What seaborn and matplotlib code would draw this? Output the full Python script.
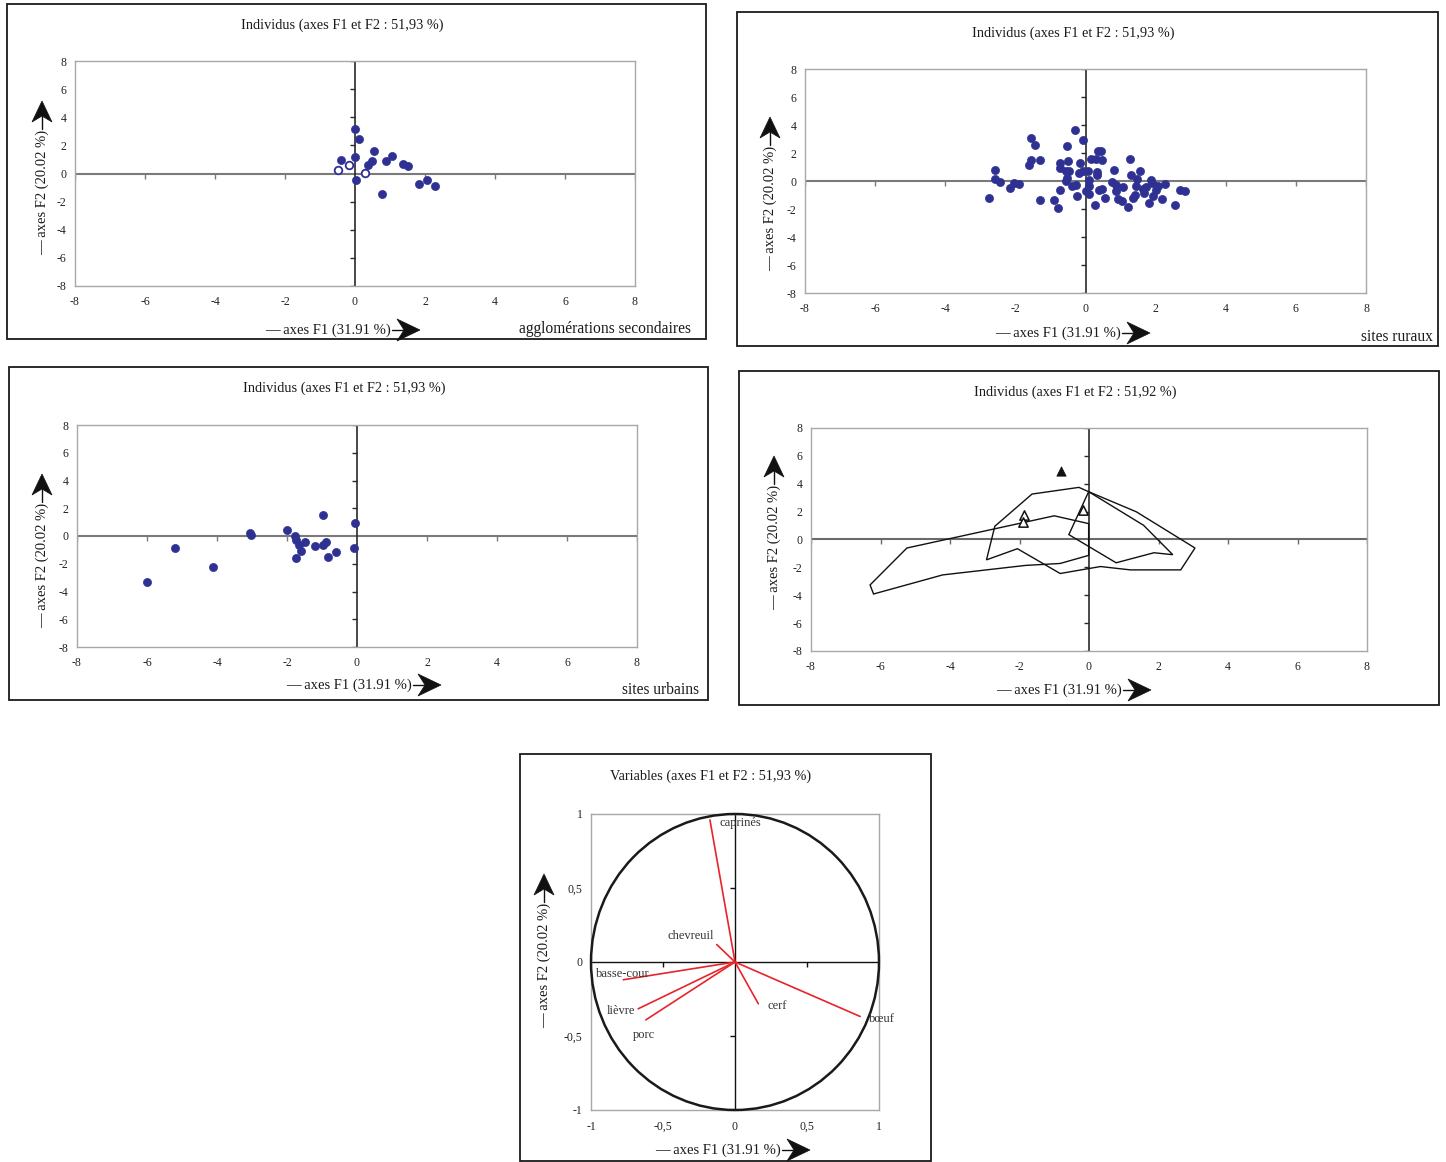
import numpy as np
import pandas as pd
import matplotlib
matplotlib.use("Agg")
import matplotlib.pyplot as plt
from matplotlib.patches import Rectangle, Polygon, Circle
import seaborn as sns

# ---------------- DATA ----------------
# Panel 1 : agglomérations secondaires
agglo_f1 = [0.00, 0.12, -0.40, 0.00, 0.55, 0.48, 0.36, 0.88, 1.06, 1.38, 1.51, 0.03, 0.78, 1.84, 2.06, 2.28]
agglo_f2 = [3.14, 2.43, 0.97, 1.19, 1.59, 0.88, 0.57, 0.90, 1.28, 0.66, 0.50, -0.43, -1.48, -0.77, -0.48, -0.90]
agglo_open_f1 = [-0.50, -0.18, 0.28]
agglo_open_f2 = [0.26, 0.64, 0.07]

# Panel 2 : sites ruraux
rural_f1 = [-2.74, -2.57, -2.58, -2.44, -2.15, -2.03, -1.90, -1.55, -1.43, -1.29, -1.55, -1.60,
            -1.29, -0.89, -0.79, -0.73, -0.53, -0.29, -0.07, -0.49, -0.73, -0.72, -0.57, -0.46,
            -0.53, -0.55, -0.39, -0.27, -0.24, -0.19, -0.15, -0.08, 0.07, 0.09, 0.09, 0.02,
            0.11, 0.17, 0.29, 0.35, 0.45, 0.48, 0.32, 0.32, 0.27, 0.38, 0.48, 0.57, 0.80,
            0.76, 0.86, 0.88, 0.92, 1.04, 1.07, 1.21, 1.28, 1.31, 1.35, 1.40, 1.43, 1.48,
            1.56, 1.64, 1.67, 1.73, 1.81, 1.88, 1.90, 1.92, 2.02, 2.08, 2.17, 2.26, 2.54,
            2.69, 2.85]
rural_f2 = [-1.24, 0.79, 0.17, -0.05, -0.48, -0.12, -0.24, 3.07, 2.54, 1.51, 1.51, 1.15,
            -1.37, -1.37, -1.94, -0.67, 2.52, 3.63, 2.91, 1.44, 1.29, 0.94, 0.75, 0.68,
            0.22, 0.03, -0.38, -0.26, -1.10, 0.58, 1.29, 0.70, 0.75, 0.10, -0.38, -0.74,
            -0.93, 1.54, 1.54, 2.14, 2.14, 1.49, 0.63, 0.41, -1.68, -0.67, -0.55, -1.22, 0.82,
            -0.07, -0.26, -0.74, -1.32, -1.46, -0.40, -1.87, 1.58, 0.41, -1.22, -1.03, -0.38, 0.14,
            0.75, -0.55, -0.86, -0.45, -1.58, 0.10, -0.14, -1.10, -0.62, -0.38, -1.29, -0.19, -1.73,
            -0.62, -0.74]

# Panel 3 : sites urbains
urban_f1 = [-6.00, -5.19, -4.12, -3.06, -3.03, -2.00, -1.78, -1.73, -1.65, -1.60, -1.74, -1.49,
            -1.20, -0.98, -0.90, -0.97, -0.84, -0.60, -0.06, -0.09]
urban_f2 = [-3.33, -0.85, -2.27, 0.22, 0.05, 0.41, 0.00, -0.29, -0.65, -1.06, -1.55, -0.46,
            -0.70, -0.65, -0.41, 1.49, -1.50, -1.14, 0.91, -0.85]

# Panel 4 : enveloppes (polygones) + triangles
hull_urban_f1 = [-6.30, -5.24, -1.00, -0.01, -0.01, -0.83, -1.83, -4.21, -6.20]
hull_urban_f2 = [-3.26, -0.61, 1.70, 1.14, -1.14, -1.72, -1.86, -2.54, -3.91]
hull_rural_f1 = [-2.95, -2.71, -1.64, -0.29, -0.01, 1.36, 3.05, 2.64, 1.19, 0.33, -0.83, -2.06]
hull_rural_f2 = [-1.46, 0.95, 3.26, 3.74, 3.43, 1.99, -0.61, -2.18, -2.18, -1.94, -2.44, -0.66]
hull_agglo_f1 = [-0.01, 1.57, 2.41, 1.87, 0.78, -0.58]
hull_agglo_f2 = [3.43, 1.02, -1.09, -0.95, -1.67, 0.35]
tri_filled_f1 = [-0.80]
tri_filled_f2 = [4.91]
tri_open_f1 = [-1.86, -1.90, -0.16]
tri_open_f2 = [1.79, 1.22, 2.15]

# Panel 5 : cercle des corrélations
var_names = ["caprinés", "chevreuil", "basse-cour", "lièvre", "porc", "cerf", "bœuf"]
var_f1 = [-0.174, -0.127, -0.776, -0.672, -0.619, 0.162, 0.869]
var_f2 = [0.960, 0.118, -0.120, -0.316, -0.391, -0.282, -0.368]
lab_f1 = [-0.109, -0.470, -0.966, -0.892, -0.711, 0.225, 0.927]
lab_f2 = [0.938, 0.176, -0.079, -0.328, -0.493, -0.294, -0.384]

ind_ticks = [-8, -6, -4, -2, 0, 2, 4, 6, 8]
var_ticks = [-1, -0.5, 0, 0.5, 1]
var_tick_labels = ["-1", "-0,5", "0", "0,5", "1"]

titles = ["Individus (axes F1 et F2 : 51,93 %)", "Individus (axes F1 et F2 : 51,93 %)",
          "Individus (axes F1 et F2 : 51,93 %)", "Individus (axes F1 et F2 : 51,92 %)",
          "Variables (axes F1 et F2 : 51,93 %)"]
subtitles = ["agglomérations secondaires", "sites ruraux", "sites urbains", "", ""]
xlab = "— axes F1 (31.91 %)"
ylab = "— axes F2 (20.02 %)"

# ---------------- STYLE ----------------
sns.set_theme(style="white")
plt.rcParams['font.family'] = ['Liberation Serif', 'DejaVu Serif']
plt.rcParams['axes.unicode_minus'] = False

W, H = 1446, 1162
fig = plt.figure(figsize=(W / 100, H / 100), dpi=100)
fig.patch.set_facecolor("white")

def fx(x):
    return x / W

def fy(y):
    return 1 - y / H

BLUE = "#2E3192"
RED = "#E8232A"

def frame(l, t, r, b):
    fig.add_artist(Rectangle((fx(l), fy(b)), (r - l) / W, (b - t) / H, transform=fig.transFigure,
                             fill=False, ec="#1a1a1a", lw=1.3))

def arrow_right(tx, ty, start):
    pts = [(tx, ty), (tx - 23, ty - 11), (tx - 16, ty), (tx - 23, ty + 11)]
    fig.add_artist(Polygon([(fx(a), fy(b)) for a, b in pts], closed=True, transform=fig.transFigure,
                           fc="#111111", ec="#111111", lw=0.5))
    fig.add_artist(plt.Line2D([fx(start), fx(tx - 16)], [fy(ty), fy(ty)], transform=fig.transFigure,
                              color="#111111", lw=1.0))

def arrow_up(tx, ty, start):
    pts = [(tx, ty), (tx - 10, ty + 21), (tx, ty + 15), (tx + 10, ty + 21)]
    fig.add_artist(Polygon([(fx(a), fy(b)) for a, b in pts], closed=True, transform=fig.transFigure,
                           fc="#111111", ec="#111111", lw=0.5))
    fig.add_artist(plt.Line2D([fx(tx), fx(tx)], [fy(start), fy(ty + 15)], transform=fig.transFigure,
                              color="#111111", lw=1.0))

def make_axes(l, t, r, b):
    ax = fig.add_axes([fx(l), fy(b), (r - l) / W, (b - t) / H])
    ax.set_facecolor("white")
    for s in ax.spines.values():
        s.set_color("#a8a8a8")
        s.set_linewidth(1.0)
    return ax

def individus_axes(ax, hcol="#7a7a7a", vcol="#2a2a2a"):
    ax.set_xlim(-8, 8)
    ax.set_ylim(-8, 8)
    ax.set_xticks(ind_ticks)
    ax.set_yticks(ind_ticks)
    ax.set_xticklabels([str(t) for t in ind_ticks])
    ax.set_yticklabels([str(t) for t in ind_ticks])
    ax.tick_params(axis="both", length=0, labelsize=8.5, colors="#222222")
    ax.tick_params(axis="x", pad=7)
    ax.tick_params(axis="y", pad=6)
    ax.axhline(0, color=hcol, lw=1.5, zorder=1)
    ax.axvline(0, color=vcol, lw=1.2, zorder=1)
    tk = [t for t in ind_ticks if t != 0]
    ax.plot(tk, [0] * len(tk), ls="none", marker=3, ms=3.5, mew=1.0, color=hcol, zorder=1)
    ax.plot([0] * len(tk), tk, ls="none", marker=0, ms=3.5, mew=1.0, color=vcol, zorder=1)
    ax.set_xlabel("")
    ax.set_ylabel("")

# panel geometry (pixels): axes box, frame, title, labels
panels = [
    dict(ax=(75, 61, 635, 286), fr=(7, 4, 706, 339), title=(342, 25), xl=(420, 330), yl=(42, 101), sub=(691, 329)),
    dict(ax=(805, 69, 1366, 293), fr=(737, 12, 1438, 346), title=(1073, 33), xl=(1150, 333), yl=(770, 117), sub=(1433, 337)),
    dict(ax=(77, 425, 637, 647), fr=(9, 367, 708, 700), title=(344, 388), xl=(441, 685), yl=(42, 474), sub=(699, 690)),
    dict(ax=(811, 428, 1367, 651), fr=(739, 371, 1439, 705), title=(1075, 392), xl=(1151, 690), yl=(774, 456), sub=None),
    dict(ax=(591, 814, 879, 1110), fr=(520, 754, 931, 1161), title=(711, 776), xl=(810, 1150), yl=(544, 874), sub=None),
]

axes = []
for i, p in enumerate(panels):
    frame(*p["fr"])
    ax = make_axes(*p["ax"])
    axes.append(ax)
    tx, ty = p["title"]
    fig.text(fx(tx), fy(ty), titles[i], ha="center", va="center", fontsize=10.3, color="#1a1a1a")
    # x label + arrow
    ax_x, ax_y = p["xl"]
    fig.text(fx(ax_x - 29), fy(ax_y), xlab, ha="right", va="center", fontsize=10.5, color="#1a1a1a")
    arrow_right(ax_x, ax_y, ax_x - 28)
    # y label + arrow
    ay_x, ay_y = p["yl"]
    fig.text(fx(ay_x), fy(ay_y + 29), ylab, ha="center", va="top", rotation=90, fontsize=10.5, color="#1a1a1a")
    arrow_up(ay_x, ay_y, ay_y + 28)
    if p["sub"] is not None:
        sx, sy = p["sub"]
        fig.text(fx(sx), fy(sy), subtitles[i], ha="right", va="center", fontsize=11.2, color="#1a1a1a")

# Panel 1
ax = axes[0]
individus_axes(ax)
sns.scatterplot(x=agglo_f1, y=agglo_f2, ax=ax, color=BLUE, s=34, edgecolor=BLUE, linewidth=0.5, zorder=3, legend=False)
sns.scatterplot(x=agglo_open_f1, y=agglo_open_f2, ax=ax, color="white", s=30, edgecolor=BLUE, linewidth=1.3, zorder=3, legend=False)
ax.set_xlim(-8, 8); ax.set_ylim(-8, 8)

# Panel 2
ax = axes[1]
individus_axes(ax)
sns.scatterplot(x=rural_f1, y=rural_f2, ax=ax, color=BLUE, s=34, edgecolor=BLUE, linewidth=0.5, zorder=3, legend=False)
ax.set_xlim(-8, 8); ax.set_ylim(-8, 8)

# Panel 3
ax = axes[2]
individus_axes(ax)
sns.scatterplot(x=urban_f1, y=urban_f2, ax=ax, color=BLUE, s=34, edgecolor=BLUE, linewidth=0.5, zorder=3, legend=False)
ax.set_xlim(-8, 8); ax.set_ylim(-8, 8)

# Panel 4
ax = axes[3]
individus_axes(ax, hcol="#6a6a6a", vcol="#2a2a2a")
for hx, hy in [(hull_urban_f1, hull_urban_f2), (hull_rural_f1, hull_rural_f2), (hull_agglo_f1, hull_agglo_f2)]:
    ax.add_patch(Polygon(np.column_stack([hx, hy]), closed=True, fill=False, ec="#111111", lw=1.0, zorder=2))
sns.scatterplot(x=tri_filled_f1, y=tri_filled_f2, ax=ax, marker="^", color="#111111", s=45, edgecolor="#111111", zorder=3, legend=False)
sns.scatterplot(x=tri_open_f1, y=tri_open_f2, ax=ax, marker="^", color="white", s=45, edgecolor="#111111", linewidth=1.1, zorder=3, legend=False)
ax.set_xlim(-8, 8); ax.set_ylim(-8, 8)

# Panel 5
ax = axes[4]
ax.set_xlim(-1, 1)
ax.set_ylim(-1, 1)
ax.set_xticks(var_ticks)
ax.set_yticks(var_ticks)
ax.set_xticklabels(var_tick_labels)
ax.set_yticklabels(var_tick_labels)
ax.tick_params(axis="both", length=0, labelsize=8.5, colors="#222222")
ax.tick_params(axis="x", pad=8)
ax.tick_params(axis="y", pad=6)
ax.axhline(0, color="#111111", lw=1.0, zorder=1)
ax.axvline(0, color="#111111", lw=1.0, zorder=1)
tk5 = [-0.5, 0.5]
ax.plot(tk5, [0, 0], ls="none", marker=3, ms=3.5, mew=1.0, color="#111111")
ax.plot([0, 0], tk5, ls="none", marker=0, ms=3.5, mew=1.0, color="#111111")
ax.add_patch(Circle((0, 0), 1, fill=False, ec="#1a1a1a", lw=1.8, zorder=3, clip_on=False))
vec = pd.DataFrame({"name": var_names, "f1": var_f1, "f2": var_f2, "lx": lab_f1, "ly": lab_f2})
for _, r in vec.iterrows():
    ax.plot([0, r.f1], [0, r.f2], color=RED, lw=1.2, zorder=2)
    ax.text(r.lx, r.ly, r["name"], ha="left", va="center", fontsize=9, color="#333333", zorder=4)

fig.savefig("out.png", dpi=100, facecolor="white")
